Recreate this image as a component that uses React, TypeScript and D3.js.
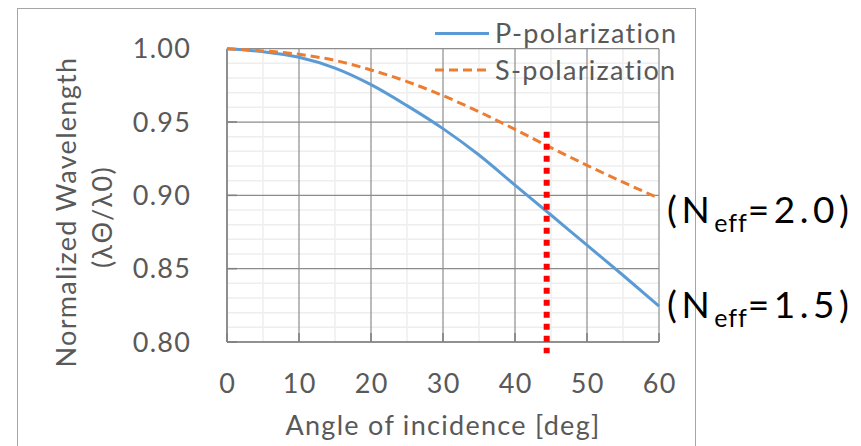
import React from "react";
import * as d3 from "d3";

const angles = [0, 5, 10, 15, 20, 25, 30, 35, 40, 45, 50, 55, 60];
const pPolarization = [1.0, 0.998, 0.9942, 0.9868, 0.9755, 0.9612, 0.9455, 0.9275, 0.907, 0.8866, 0.866, 0.8455, 0.8245];
const sPolarization = [1.0, 0.9985, 0.9962, 0.992, 0.9855, 0.9776, 0.968, 0.957, 0.945, 0.9325, 0.9205, 0.909, 0.898];
const xTicks = [0, 10, 20, 30, 40, 50, 60];
const yTicks = [0.8, 0.85, 0.9, 0.95, 1.0];
const seriesNames = ["P-polarization", "S-polarization"];
const markerAngle = 44.4;
const markerRange = [0.7924, 0.9434];
const annotationLabels = ["2.0", "1.5"];
const annotationValues = [0.8811, 0.8163];

const W = 861;
const H = 446;
const FONT = "Lato, 'Open Sans', sans-serif";
const GRAY = "#595959";
const LS = 1.3;

export default function App() {
  const x = d3.scaleLinear().domain([0, 60]).range([227, 659]);
  const y = d3.scaleLinear().domain([0.8, 1.0]).range([342, 48.7]);

  const line = (vals: number[]) =>
    d3
      .line<number>()
      .x((_, i) => x(angles[i]))
      .y((v) => y(v))
      .curve(d3.curveMonotoneX)(vals) as string;

  const minorX = d3.range(5, 60, 10);
  const minorY = d3.range(0, 21).map((i) => 0.8 + i * 0.01).filter((v) => Math.round(v * 100) % 5 !== 0);

  const [x0, x1] = x.range();
  const [yb, yt] = y.range();

  return (
    <svg width={W} height={H} style={{ position: "absolute", left: 0, top: 0, background: "#fff" }} fontFamily={FONT}>
      <rect x={0} y={0} width={W} height={H} fill="#fff" />
      <rect x={17.5} y={8.5} width={678} height={460} fill="none" stroke="#a6a6a6" strokeWidth={1} />
      {/* minor grid */}
      {minorX.map((v) => (
        <line key={"mx" + v} x1={x(v)} x2={x(v)} y1={yt} y2={yb} stroke="#eeeeee" strokeWidth={1.5} />
      ))}
      {minorY.map((v) => (
        <line key={"my" + v} x1={x0} x2={x1} y1={y(v)} y2={y(v)} stroke="#eeeeee" strokeWidth={1.5} />
      ))}
      {/* major grid */}
      {xTicks.map((v) => (
        <line key={"gx" + v} x1={x(v)} x2={x(v)} y1={yt} y2={yb} stroke="#8c8c8c" strokeWidth={1.2} />
      ))}
      {yTicks.map((v) => (
        <line key={"gy" + v} x1={x0} x2={x1} y1={y(v)} y2={y(v)} stroke="#8c8c8c" strokeWidth={1.2} />
      ))}
      {/* axes */}
      <line x1={x0} x2={x0} y1={yt} y2={yb} stroke="#7f7f7f" strokeWidth={1.5} />
      <line x1={x0} x2={x1} y1={yb} y2={yb} stroke="#7f7f7f" strokeWidth={1.5} />
      {yTicks.map((v) => (
        <line key={"ty" + v} x1={x0} x2={x0 + 10} y1={y(v)} y2={y(v)} stroke="#7f7f7f" strokeWidth={1.5} />
      ))}
      {xTicks.map((v) => (
        <line key={"tx" + v} x1={x(v)} x2={x(v)} y1={yb} y2={yb - 9} stroke="#7f7f7f" strokeWidth={1.5} />
      ))}
      {/* tick labels */}
      {yTicks.map((v) => (
        <text key={"ly" + v} x={190 + LS} y={y(v)} dy="0.36em" textAnchor="end" fontSize={27} fill={GRAY} letterSpacing={LS}>
          {v.toFixed(2)}
        </text>
      ))}
      {xTicks.map((v) => (
        <text key={"lx" + v} x={x(v) + LS / 2} y={393} textAnchor="middle" fontSize={27} fill={GRAY} letterSpacing={LS}>
          {v}
        </text>
      ))}
      {/* axis titles */}
      <text x={443} y={435} textAnchor="middle" fontSize={27} fill={GRAY} letterSpacing={LS}>
        Angle of incidence [deg]
      </text>
      <text transform="translate(76,212) rotate(-90)" textAnchor="middle" fontSize={27} fill={GRAY} letterSpacing={LS}>
        Normalized Wavelength
      </text>
      <text transform="translate(112,217) rotate(-90)" textAnchor="middle" fontSize={27} fill={GRAY} letterSpacing={LS}>
        (λΘ/λ0)
      </text>
      {/* series */}
      <path d={line(pPolarization)} fill="none" stroke="#5B9BD5" strokeWidth={3} />
      <path d={line(sPolarization)} fill="none" stroke="#ED7D31" strokeWidth={3} strokeDasharray="9,5" />
      {/* marker line */}
      <line
        x1={x(markerAngle)}
        x2={x(markerAngle)}
        y1={y(markerRange[1])}
        y2={y(markerRange[0])}
        stroke="#FF0000"
        strokeWidth={6}
        strokeDasharray="6,6"
      />
      {/* legend */}
      <line x1={435} x2={489} y1={33.5} y2={33.5} stroke="#5B9BD5" strokeWidth={3} />
      <text x={495} y={43} fontSize={27} fill={GRAY} letterSpacing={LS}>
        {seriesNames[0]}
      </text>
      <line x1={435} x2={489} y1={70} y2={70} stroke="#ED7D31" strokeWidth={3} strokeDasharray="9,5" />
      <text x={495} y={80} fontSize={27} fill={GRAY} letterSpacing={LS}>
        {seriesNames[1]}
      </text>
      {/* annotations */}
      {annotationLabels.map((label, i) => (
        <text key={label} x={667} y={y(annotationValues[i])} fontSize={37} fill="#000" letterSpacing={4.5}>
          (N
          <tspan fontSize={25} dy={9} letterSpacing={1}>eff</tspan>
          <tspan dy={-9}>={label})</tspan>
        </text>
      ))}
    </svg>
  );
}
